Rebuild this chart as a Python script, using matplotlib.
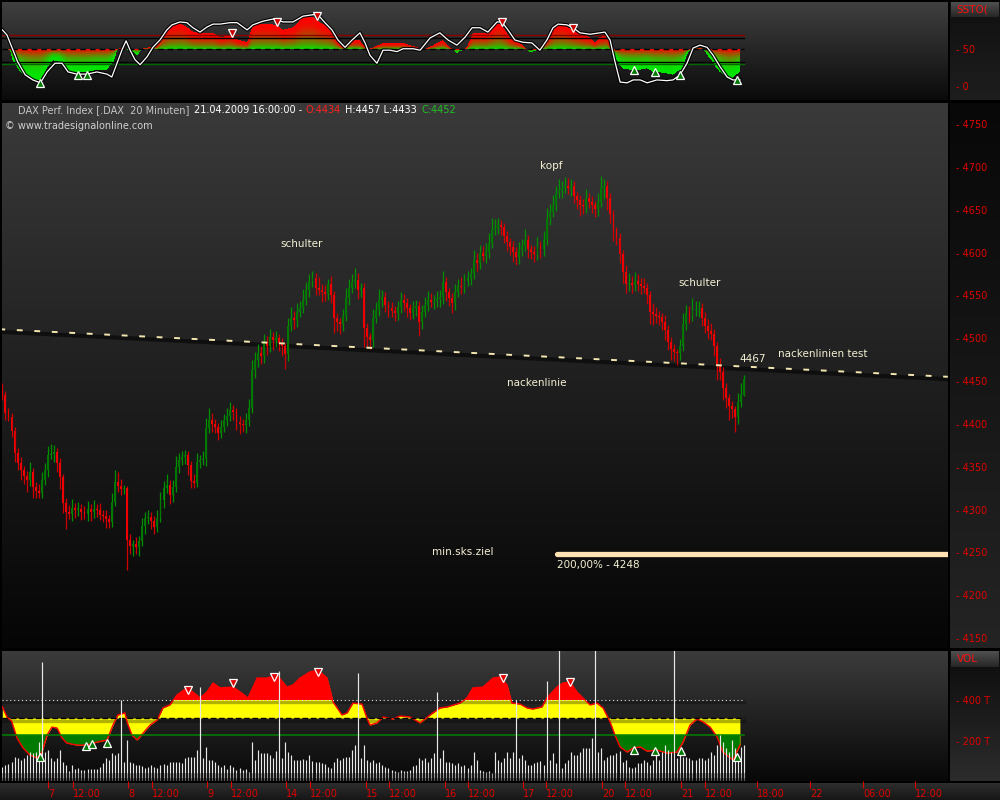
import numpy as np
import matplotlib.pyplot as plt
import matplotlib.transforms as mtransforms
from matplotlib.colors import to_rgb

plt.rcParams['font.family'] = ['DejaVu Sans']

# ---- DAX 20 min bars, 06.04.2009 afternoon .. 21.04.2009 16:00 ----
first_open = 4440
close = [
    4434, 4413, 4408, 4392, 4366, 4354, 4346, 4339, 4335, 4344,
    4326, 4322, 4319, 4335, 4346, 4364, 4365, 4367, 4354, 4338,
    4308, 4297, 4295, 4302, 4300, 4301, 4297, 4295, 4301, 4297,
    4301, 4300, 4294, 4293, 4289, 4286, 4309, 4332, 4328, 4324,
    4325, 4265, 4258, 4260, 4256, 4263, 4281, 4290, 4291, 4287,
    4280, 4290, 4311, 4325, 4329, 4317, 4326, 4350, 4358, 4361,
    4364, 4352, 4333, 4331, 4356, 4358, 4359, 4395, 4405, 4400,
    4396, 4389, 4396, 4405, 4409, 4416, 4414, 4402, 4400, 4399,
    4405, 4419, 4463, 4475, 4483, 4479, 4496, 4491, 4501, 4498,
    4500, 4494, 4491, 4482, 4514, 4524, 4521, 4531, 4535, 4545,
    4556, 4567, 4570, 4559, 4556, 4554, 4552, 4563, 4550, 4524,
    4519, 4517, 4526, 4547, 4559, 4566, 4568, 4556, 4559, 4512,
    4501, 4498, 4524, 4533, 4545, 4548, 4539, 4535, 4532, 4529,
    4536, 4545, 4541, 4535, 4529, 4535, 4538, 4519, 4531, 4539,
    4545, 4542, 4543, 4546, 4548, 4566, 4554, 4547, 4541, 4554,
    4561, 4560, 4567, 4570, 4575, 4591, 4588, 4599, 4596, 4601,
    4611, 4626, 4629, 4632, 4630, 4619, 4612, 4606, 4601, 4595,
    4603, 4608, 4615, 4604, 4601, 4598, 4608, 4604, 4615, 4640,
    4647, 4655, 4669, 4672, 4675, 4678, 4675, 4678, 4666, 4661,
    4655, 4654, 4664, 4659, 4655, 4651, 4659, 4675, 4678, 4664,
    4645, 4626, 4617, 4598, 4577, 4563, 4564, 4562, 4567, 4563,
    4561, 4559, 4550, 4531, 4528, 4526, 4525, 4519, 4510, 4496,
    4487, 4484, 4483, 4491, 4517, 4529, 4526, 4533, 4534, 4535,
    4524, 4514, 4508, 4505, 4491, 4469, 4461, 4442, 4430, 4421,
    4417, 4408, 4426, 4434, 4452]

# wick length above / below the body, in index points
up_wick = [
    8, 4, 6, 5, 4, 6, 7, 5, 6, 12,
    5, 6, 8, 9, 8, 10, 12, 8, 5, 6,
    4, 6, 8, 10, 6, 8, 5, 7, 9, 6,
    10, 6, 8, 5, 7, 5, 10, 14, 12, 8,
    4, 3, 6, 5, 8, 6, 9, 7, 8, 6,
    5, 9, 10, 8, 12, 6, 9, 12, 8, 7,
    6, 4, 5, 8, 10, 6, 9, 12, 14, 8,
    6, 5, 8, 7, 9, 10, 6, 5, 7, 6,
    8, 10, 12, 9, 10, 8, 9, 7, 10, 6,
    8, 5, 6, 4, 10, 12, 8, 10, 9, 12,
    10, 8, 9, 6, 12, 7, 8, 6, 10, 5,
    6, 5, 8, 12, 10, 9, 14, 8, 6, 5,
    6, 5, 10, 9, 12, 8, 6, 5, 7, 6,
    8, 9, 7, 6, 5, 8, 7, 6, 8, 9,
    10, 8, 7, 9, 8, 12, 6, 5, 6, 9,
    8, 10, 8, 9, 7, 12, 8, 10, 9, 10,
    12, 14, 10, 8, 6, 5, 6, 5, 7, 6,
    9, 8, 12, 6, 5, 7, 10, 6, 10, 12,
    10, 12, 9, 14, 8, 10, 9, 8, 6, 5,
    6, 8, 10, 6, 7, 5, 10, 14, 8, 5,
    6, 5, 4, 6, 5, 8, 12, 9, 10, 8,
    7, 9, 6, 5, 10, 8, 6, 5, 8, 6,
    5, 6, 4, 8, 12, 10, 9, 14, 10, 9,
    6, 7, 8, 10, 6, 5, 8, 5, 6, 5,
    6, 4, 10, 14, 5]
dn_wick = [
    6, 8, 5, 7, 10, 8, 12, 9, 14, 8,
    12, 8, 6, 5, 6, 8, 5, 9, 10, 14,
    12, 20, 6, 8, 10, 7, 9, 6, 8, 10,
    7, 9, 6, 8, 10, 8, 6, 5, 8, 7,
    6, 36, 10, 12, 8, 10, 6, 9, 7, 10,
    8, 6, 5, 9, 6, 10, 8, 5, 7, 6,
    8, 12, 8, 6, 5, 7, 6, 8, 6, 9,
    7, 8, 6, 5, 8, 6, 10, 9, 12, 8,
    10, 8, 6, 10, 8, 9, 8, 10, 7, 12,
    8, 9, 12, 18, 8, 6, 10, 8, 6, 5,
    6, 8, 7, 9, 6, 12, 8, 7, 9, 18,
    10, 12, 9, 6, 8, 6, 7, 10, 8, 22,
    12, 10, 8, 6, 7, 9, 8, 10, 7, 9,
    8, 6, 9, 10, 8, 7, 9, 16, 8, 6,
    7, 6, 8, 6, 9, 8, 10, 9, 12, 8,
    6, 8, 7, 6, 8, 6, 9, 7, 6, 8,
    7, 6, 5, 7, 9, 8, 10, 9, 12, 10,
    8, 7, 6, 10, 8, 9, 7, 10, 8, 6,
    8, 6, 7, 5, 8, 6, 7, 9, 8, 10,
    12, 9, 8, 7, 9, 10, 8, 6, 12, 14,
    10, 12, 8, 10, 12, 10, 8, 9, 7, 8,
    9, 6, 10, 14, 12, 8, 10, 9, 12, 10,
    12, 10, 14, 8, 6, 7, 8, 6, 7, 9,
    10, 8, 9, 7, 12, 18, 10, 14, 12, 16,
    10, 18, 8, 6, 1]

# volume per bar, thousands
volume = [
    75, 83, 86, 99, 124, 115, 107, 115, 132, 148,
    140, 148, 197, 585, 148, 156, 115, 102, 115, 156,
    99, 83, 54, 83, 63, 67, 59, 59, 63, 63,
    63, 63, 75, 91, 115, 107, 140, 132, 140, 400,
    99, 205, 99, 91, 83, 83, 80, 67, 75, 83,
    75, 67, 83, 86, 83, 99, 96, 99, 99, 91,
    119, 124, 124, 124, 156, 463, 115, 172, 107, 107,
    99, 83, 75, 83, 63, 83, 75, 59, 67, 59,
    63, 50, 197, 107, 156, 140, 140, 140, 132, 119,
    151, 541, 115, 197, 148, 132, 107, 107, 107, 112,
    107, 132, 102, 99, 96, 91, 86, 75, 67, 99,
    115, 107, 115, 124, 124, 156, 181, 532, 115, 181,
    107, 99, 107, 91, 99, 83, 75, 67, 59, 54,
    50, 59, 54, 54, 59, 80, 83, 115, 107, 115,
    99, 115, 140, 439, 115, 156, 99, 99, 91, 83,
    91, 80, 83, 67, 83, 148, 107, 59, 54, 50,
    54, 42, 148, 107, 99, 115, 145, 115, 148, 400,
    115, 132, 107, 83, 83, 91, 99, 102, 83, 493,
    107, 140, 91, 700, 67, 91, 107, 148, 132, 132,
    148, 164, 164, 164, 213, 700, 148, 164, 107, 124,
    132, 132, 140, 151, 99, 107, 75, 67, 75, 91,
    91, 107, 99, 83, 107, 132, 107, 148, 181, 156,
    148, 700, 115, 148, 124, 124, 115, 107, 107, 115,
    115, 107, 115, 148, 132, 181, 229, 197, 164, 148,
    205, 164, 132, 172, 181]

# ---- stochastic panel ----
sto_k_bar = [0, 1.5, 3.5, 5, 7.5, 10, 12.5, 14.7,
             17.3, 19.6, 21.6, 24.5, 27.8, 31.1, 34.4, 36,
             37.7, 39.3, 40.7, 42, 43.6, 45.3, 47.6, 49.5,
             51.8, 54.1, 55.8, 58.4, 60.7, 62.7, 65, 67.3,
             69.3, 71.6, 74.9, 77.2, 80.5, 82.4, 85.7, 89,
             92.3, 95.6, 98.9, 102.2, 103.8, 106.1, 108.4, 110.4,
             112.7, 115, 117.6, 119.3, 120.9, 123.2, 125.2, 127.5,
             129.8, 131.8, 135.1, 137.4, 140.7, 143.9, 146.6, 149.5,
             152.2, 154.5, 157.1, 159.7, 162.7, 164.3, 166.3, 168.6,
             171.2, 174.2, 176.8, 179.1, 181.1, 182.8, 185.7, 187.7,
             190, 193.3, 196.6, 198.2, 199.9, 201.5, 203.2, 205.5,
             207.5, 209.8, 212.1, 215.3, 218.6, 220.6, 222.9, 225.2,
             227.2, 229.5, 231.8, 233.8, 236.1, 238.4, 240.3, 242.6]
sto_k = [77, 70, 49, 33, 15, 8, 4, 19,
         31, 31, 19, 16, 16, 19, 16, 12,
         31, 49, 62, 49, 36, 29, 40, 53,
         63, 77, 84, 88, 87, 80, 74, 81,
         85, 85, 87, 87, 77, 84, 89, 92,
         88, 88, 96, 98, 98, 87, 77, 63,
         53, 63, 73, 59, 42, 31, 49, 49,
         47, 51, 51, 49, 66, 73, 63, 56,
         67, 80, 80, 74, 88, 88, 77, 63,
         60, 59, 49, 63, 80, 85, 84, 80,
         73, 71, 73, 74, 63, 33, 5, 4,
         8, 8, 4, 8, 7, 8, 15, 31,
         52, 56, 53, 42, 26, 12, 8, 8]
sto_d_bar = [0.2, 2.5, 3.5, 5.8, 8.1, 10.1, 12.4, 14.7,
             16.6, 18.9, 21.3, 24.5, 27.8, 31.1, 34.4, 36.4,
             37.7, 38.7, 42, 44.3, 46.3, 48.6, 50.9, 52.8,
             55.1, 58.4, 60.7, 62.7, 65, 69.3, 71.6, 74.9,
             77.2, 80.5, 82.4, 85.7, 90.3, 92.3, 95.6, 98.9,
             102.2, 105.1, 107.8, 110.1, 112, 114.3, 117.6, 119.9,
             121.9, 125.2, 128.5, 131.8, 136.4, 138.4, 141.6, 144.9,
             147.2, 149.5, 152.8, 154.8, 159.4, 162.7, 163.7, 167,
             170.3, 173.6, 175.9, 179.1, 181.8, 184.4, 187.7, 191,
             193.3, 194.9, 196.6, 198.9, 200.5, 201.5, 203.8, 206.4,
             209.8, 212, 214, 217.3, 220.6, 223.6, 225.5, 227.8,
             230.1, 232.1, 235, 237, 239.3, 242.6]
sto_d = [49, 49, 33, 19, 11, 8, 8, 25,
         35, 33, 19, 18, 19, 22, 22, 33,
         49, 52, 49, 42, 52, 53, 56, 73,
         83, 86, 81, 74, 73, 73, 67, 70,
         64, 60, 84, 86, 84, 77, 81, 95,
         95, 86, 81, 63, 53, 63, 63, 49,
         53, 59, 59, 59, 53, 49, 56, 63,
         53, 45, 53, 73, 73, 86, 86, 67,
         59, 46, 49, 63, 84, 85, 77, 70,
         67, 60, 67, 70, 49, 40, 24, 22,
         22, 24, 19, 18, 15, 24, 45, 53,
         52, 42, 24, 15, 8, 19]
sto_mid = 50
sto_bands = [(70, '#8c0000'), (66, '#000000'), (33, '#000000'), (30, '#006a00')]
sto_sell_bar = [75.6, 90.3, 103.5, 164.3, 187.7]
sto_sell = [73, 88, 96, 88, 80]
sto_buy_bar = [12.4, 24.9, 27.8, 207.8, 214.7, 222.9, 241.6]
sto_buy = [4, 15, 15, 22, 19, 15, 8]

# ---- volume indicator ----
vind_bar = [0, 1.5, 3, 4.8, 6.8, 9, 11.4, 13,
            14.7, 16.3, 18, 19.6, 21.2, 24.5, 27.8, 31.1,
            34.4, 36.4, 38, 40.3, 41, 42.6, 44.3, 46.3,
            48.6, 50.9, 52.8, 55.1, 57.4, 60.7, 62.7, 65,
            67.3, 69.3, 71.6, 75.9, 78.2, 80.8, 83.8, 87,
            90.3, 93.6, 95.6, 97.9, 101.2, 103.8, 106.8, 108.8,
            111.7, 113.4, 115.3, 118.3, 119.9, 120.9, 123.2, 125.2,
            128.5, 130.8, 134.1, 137.4, 140.7, 143.9, 146.3, 150.5,
            152.8, 154.8, 158.1, 161.4, 163.7, 166, 167.6, 170.3,
            172.6, 174.5, 177.5, 179.1, 182.4, 184.4, 186.7, 189,
            191, 193.3, 195.6, 197.6, 199.9, 201.5, 203.2, 205.5,
            207.5, 209.8, 212, 215.3, 218.6, 221.9, 223.9, 226.2,
            228.5, 230.5, 232.8, 235.1, 237, 240.3, 242.6]
vind = [366, 317, 298, 215, 166, 132, 117, 146,
        229, 268, 263, 215, 190, 180, 180, 195,
        205, 278, 327, 337, 293, 229, 205, 239,
        278, 302, 361, 376, 424, 459, 439, 410,
        439, 483, 459, 463, 439, 410, 507, 507,
        522, 463, 473, 507, 537, 546, 507, 390,
        327, 337, 385, 380, 312, 278, 288, 317,
        307, 322, 317, 288, 327, 361, 366, 385,
        410, 459, 463, 507, 512, 473, 385, 380,
        361, 356, 366, 410, 463, 483, 488, 439,
        410, 376, 385, 361, 293, 229, 171, 146,
        166, 171, 151, 156, 141, 146, 195, 278,
        307, 293, 268, 220, 146, 107, 180]
vind_hi, vind_mid, vind_lo = 400, 312, 229
vsell_bar = [61, 75.9, 89.3, 103.8, 164.7, 186.7]
vsell = [449, 483, 512, 537, 507, 488]
vbuy_bar = [12.4, 27.5, 29.5, 34.4, 207.8, 214.7, 223.2, 241.6]
vbuy = [122, 176, 185, 190, 156, 151, 151, 122]

# ---- chart drawing objects ----
neck_bar = [-1, 311]
neck_price = [4510.5, 4455]
target_bar = 182.5
target_price = 4248

price_ticks = list(range(4150, 4751, 50))
tick_pos = [15, 23.2, 41.3, 49.2, 67.3, 75.2, 93.3, 101.2, 119.6, 127.2, 145.6,
            153.2, 171.2, 178.8, 197.2, 204.8, 223.2, 231.1, 248.2, 265.7, 283.1, 300.2]
tick_lbl = ['7', '12:00', '8', '12:00', '9', '12:00', '14', '12:00', '15', '12:00', '16',
            '12:00', '17', '12:00', '20', '12:00', '21', '12:00', '18:00', '22', '06:00', '12:00']

RED = '#e00000'
CREAM = '#f4f0d4'
W, H = 1000, 800
XLIM = (-0.13, 311.05)

fig = plt.figure(figsize=(10, 8), dpi=100, facecolor='black')


def rect(x0, y0, x1, y1):
    return [x0 / W, 1 - y1 / H, (x1 - x0) / W, (y1 - y0) / H]


def gradient(ax, top, bottom, z=0):
    c1 = np.array(to_rgb(top))
    c2 = np.array(to_rgb(bottom))
    t = np.linspace(0, 1, 256)[:, None, None]
    img = c1 * (1 - t) + c2 * t
    ax.imshow(img, extent=[0, 1, 0, 1], transform=ax.transAxes,
              aspect='auto', zorder=z, interpolation='bilinear')


def bg_box(x0, y0, x1, y1, top, bottom):
    a = fig.add_axes(rect(x0, y0, x1, y1), zorder=-5)
    gradient(a, top, bottom)
    a.set_xlim(0, 1)
    a.set_ylim(0, 1)
    a.axis('off')
    return a


# side column and time strip backgrounds
bg_box(950, 2, 1000, 100, '#101010', '#1e1e1e')
bg_box(950, 103, 1000, 648, '#080808', '#242424')
bg_box(950, 651, 1000, 781, '#0c0c0c', '#2c2c2c')
bg_box(0, 783, 1000, 800, '#2e2e2e', '#161616')
hb1 = bg_box(951, 2, 999, 17, '#505050', '#262626')
hb2 = bg_box(951, 651, 999, 667, '#505050', '#262626')
hb1.text(0.12, 0.5, 'SSTO(', color='#ff1010', fontsize=7.5, va='center', ha='left')
hb2.text(0.12, 0.5, 'VOL', color='#ff1010', fontsize=7.5, va='center', ha='left')

ax_top = fig.add_axes(rect(2, 2, 948, 100))
ax_main = fig.add_axes(rect(2, 103, 948, 648))
ax_vol = fig.add_axes(rect(2, 651, 948, 781))
gradient(ax_top, '#404040', '#0a0a0a')
gradient(ax_main, '#3a3a3a', '#050505')
gradient(ax_vol, '#3c3c3c', '#080808')

for ax in (ax_top, ax_main, ax_vol):
    for s in ax.spines.values():
        s.set_visible(False)
    ax.yaxis.tick_right()
    ax.tick_params(axis='y', length=0, pad=6, labelcolor=RED, labelsize=7)
    ax.set_xticks([])

# ---------- main price panel ----------
close = np.array(close, float)
opens = np.r_[first_open, close[:-1]]
highs = np.maximum(opens, close) + np.array(up_wick)
lows = np.minimum(opens, close) - np.array(dn_wick)
idx = np.arange(len(close))
rising = close >= opens
wick_col = np.where(rising, '#009000', '#d00000')
body_col = np.where(rising, '#007800', '#f00000')

shadow = mtransforms.offset_copy(ax_main.transData, fig=fig, x=0, y=-2.5, units='dots')
ax_main.plot(neck_bar, neck_price, color='#0c0c0c', lw=3, alpha=0.85,
             transform=shadow, zorder=1)
ax_main.vlines(idx, lows, highs, colors=wick_col, lw=0.9, zorder=2)
ax_main.bar(idx, np.maximum(np.abs(close - opens), 1.2), bottom=np.minimum(opens, close),
            width=0.62, color=body_col, lw=0, zorder=2)
ax_main.plot(neck_bar, neck_price, color='#f3e6b0', lw=1.4, dashes=(3, 6), zorder=3)
ax_main.plot([target_bar, 330], [target_price, target_price], color='#ffe2b4', lw=3.8,
             solid_capstyle='round', zorder=3)

neck_last = np.interp(idx[-1], neck_bar, neck_price)
ax_main.text(180.5, 4701, 'kopf', color=CREAM, fontsize=7.5, ha='center', va='center')
ax_main.text(98.5, 4610, 'schulter', color=CREAM, fontsize=7.5, ha='center', va='center')
ax_main.text(229.5, 4564.5, 'schulter', color=CREAM, fontsize=7.5, ha='center', va='center')
ax_main.text(175.9, 4447.8, 'nackenlinie', color=CREAM, fontsize=7.5, ha='center', va='center')
ax_main.text(255.1, 4481.6, 'nackenlinien test', color=CREAM, fontsize=7.5, ha='left', va='center')
ax_main.text(242.6, 4475.8, f'{neck_last:.0f}', color=CREAM, fontsize=7.5, ha='left', va='center')
ax_main.text(151.5, 4250.6, 'min.sks.ziel', color=CREAM, fontsize=7.5, ha='center', va='center')
ax_main.text(target_bar, 4235.4, f'200,00% - {target_price}', color=CREAM, fontsize=7.5,
             ha='left', va='center')

ax_main.set_yticks(price_ticks, [f'- {p}' for p in price_ticks])
ax_main.set_xlim(XLIM)
ax_main.set_ylim(4138.5, 4774.5)

# header line, pieces chained left to right
o, h, l, c = opens[-1], highs[-1], lows[-1], close[-1]
parts = [('DAX Perf. Index [.DAX  20 Minuten]', '#c4c4c4'),
         ('21.04.2009 16:00:00 -', '#ffffff'),
         (f'O:{o:.0f}', '#ff2020'),
         (f'H:{h:.0f} L:{l:.0f}', '#ffffff'),
         (f'C:{c:.0f}', '#20c020')]
prev = ax_main.annotate(parts[0][0], xy=(18 / W, 1 - 110 / H), xycoords='figure fraction',
                        color=parts[0][1], fontsize=7, va='center', ha='left')
for txt, col in parts[1:]:
    prev = ax_main.annotate(txt, xy=(1, 0.5), xycoords=prev, xytext=(3, 0),
                            textcoords='offset points', color=col, fontsize=7,
                            va='center', ha='left')
ax_main.annotate('\u00a9 www.tradesignalonline.com', xy=(5 / W, 1 - 126 / H),
                 xycoords='figure fraction', color='#d0d0d0', fontsize=7,
                 va='center', ha='left')

# ---------- stochastic panel ----------
xs = np.linspace(sto_d_bar[0], sto_d_bar[-1], 1400)
cv = np.interp(xs, sto_d_bar, sto_d)
ss = np.linspace(-20, 116, 400)
S, C = np.meshgrid(ss, cv, indexing='ij')
den = np.where(np.abs(C - sto_mid) < 1e-6, 1e-6, C - sto_mid)
t = (S - sto_mid) / den
inside = (t >= 0) & (t <= 1)
tt = np.clip(t, 0, 1)
gw = np.where(C > sto_mid, (1 - tt) ** 2, 1 - (1 - tt) ** 2.5)
red = np.array([1.0, 0.0, 0.0])
green = np.array([0.0, 0.9, 0.0])
rgb = gw[..., None] * green + (1 - gw[..., None]) * red
img = np.dstack([rgb, inside.astype(float)])
ax_top.imshow(img, extent=[xs[0], xs[-1], ss[0], ss[-1]], origin='lower',
              aspect='auto', interpolation='nearest', zorder=1)

for lvl, col in sto_bands:
    ax_top.plot([XLIM[0], idx[-1]], [lvl, lvl], color=col, lw=1.0, zorder=2)
ax_top.plot([XLIM[0], idx[-1]], [sto_mid, sto_mid], color='black', lw=1.0,
            dashes=(4, 3), zorder=2)
ax_top.plot(sto_k_bar, sto_k, color='black', lw=2.6, alpha=0.9, zorder=3)
ax_top.plot(sto_k_bar, sto_k, color='white', lw=0.9, zorder=4)
ax_top.plot(sto_sell_bar, sto_sell, ls='none', marker='v', ms=6, mfc='#c80000',
            mec='white', mew=0.9, zorder=5)
ax_top.plot(sto_buy_bar, sto_buy, ls='none', marker='^', ms=6, mfc='#007a00',
            mec='white', mew=0.9, zorder=5)
ax_top.set_yticks([0, 50], ['- 0', '- 50'])
ax_top.set_xlim(XLIM)
ax_top.set_ylim(-19.7, 115.5)

# ---------- volume panel ----------
vb = np.array(vind_bar)
vi = np.array(vind, float)
ax_vol.fill_between(vb, vind_mid, vi, color='#ffff00', lw=0, zorder=1)
ax_vol.fill_between(vb, vind_hi, vi, where=vi > vind_hi, interpolate=True,
                    color='#ff0000', lw=0, zorder=1.1)
ax_vol.fill_between(vb, vind_lo, vi, where=vi < vind_lo, interpolate=True,
                    color='#007a00', lw=0, zorder=1.1)
vshadow = mtransforms.offset_copy(ax_vol.transData, fig=fig, x=0, y=-2.5, units='dots')
for lvl in (vind_hi, vind_mid):
    ax_vol.plot([XLIM[0], idx[-1]], [lvl, lvl], color='black', lw=2.4, alpha=0.3,
                transform=vshadow, zorder=1.5)
ax_vol.plot(vb, vi, color='#ff0000', lw=1.0, zorder=1.6)
ax_vol.plot([XLIM[0], idx[-1]], [vind_lo, vind_lo], color='#008000', lw=1.1, zorder=1.7)
ax_vol.plot([XLIM[0], idx[-1]], [vind_mid, vind_mid], color='black', lw=1.0,
            dashes=(4, 2), zorder=1.7)
ax_vol.plot([XLIM[0], idx[-1]], [vind_hi, vind_hi], color='#e0e0e0', lw=0.8,
            dashes=(1, 2.5), zorder=1.7)

vol = np.array(volume, float)
for lo, hi, col in [(0, 20, '#5a5a5a'), (20, 45, '#9a9a9a'), (45, 2000, '#e8e8e8')]:
    top = np.clip(vol, lo, hi)
    m = vol > lo
    ax_vol.vlines(idx[m], lo, top[m], colors=col, lw=0.85, zorder=3)

ax_vol.plot(vsell_bar, vsell, ls='none', marker='v', ms=6, mfc='#e00000',
            mec='white', mew=0.9, zorder=5)
ax_vol.plot(vbuy_bar, vbuy, ls='none', marker='^', ms=6, mfc='#007a00',
            mec='white', mew=0.9, zorder=5)
ax_vol.set_yticks([200, 400], ['- 200 T', '- 400 T'])
ax_vol.set_xlim(XLIM)
ax_vol.set_ylim(4.9, 639)
ax_vol.set_xticks(tick_pos, tick_lbl)
ax_vol.tick_params(axis='x', direction='out', length=5, width=0.8, color=RED,
                   labelcolor=RED, labelsize=7, pad=1)
for lb in ax_vol.get_xticklabels():
    lb.set_horizontalalignment('left')

fig.savefig('out.png', dpi=100, facecolor='black')
